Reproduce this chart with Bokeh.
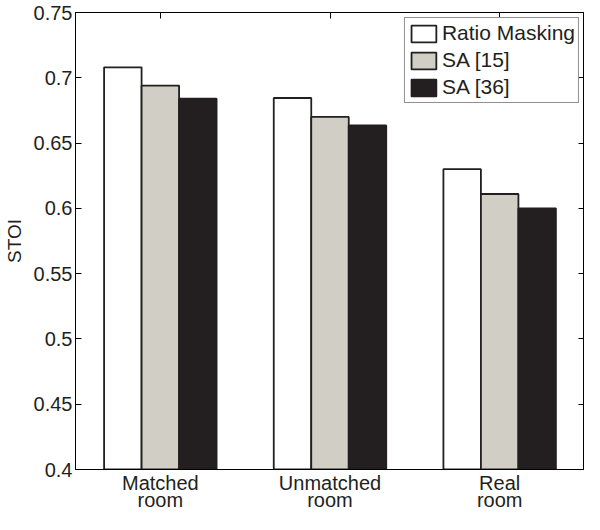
from bokeh.plotting import figure
from bokeh.models import (FactorRange, ColumnDataSource, FixedTicker, LinearAxis,
                          CategoricalAxis, Legend, LegendItem, Range1d, CustomJSTickFormatter)
from bokeh.transform import dodge
from bokeh.embed import file_html
from bokeh.resources import INLINE

categories = ["Matched\nroom", "Unmatched\nroom", "Real\nroom"]
series_names = ["Ratio Masking", "SA [15]", "SA [36]"]
ratio_masking = [0.708, 0.6845, 0.630]
sa_15 = [0.694, 0.670, 0.611]
sa_36 = [0.684, 0.6635, 0.600]
y_ticks = [0.4, 0.45, 0.5, 0.55, 0.6, 0.65, 0.7, 0.75]
y_tick_labels = ["0.4", "0.45", "0.5", "0.55", "0.6", "0.65", "0.7", "0.75"]

FONT = "Liberation Sans"
EDGE = "#231f20"
fills = ["#ffffff", "#d1cfc5", "#231f20"]
offsets = [-0.221, 0.0, 0.221]
bar_w = 0.221

source = ColumnDataSource(data=dict(cat=categories, rm=ratio_masking, s15=sa_15, s36=sa_36))

p = figure(x_range=FactorRange(factors=categories, range_padding=0),
           y_range=Range1d(0.4, 0.75),
           width=584, height=514, output_backend="svg", toolbar_location=None,
           min_border_left=0, min_border_right=0, min_border_top=12, min_border_bottom=0)

renderers = []
for col, fc, off in zip(["rm", "s15", "s36"], fills, offsets):
    r = p.vbar(x=dodge("cat", off, range=p.x_range), top=col, bottom=0.4, width=bar_w,
               source=source, fill_color=fc, line_color=EDGE, line_width=1.8)
    renderers.append(r)

p.xgrid.visible = False
p.ygrid.visible = False
p.outline_line_color = "black"
p.outline_line_width = 1
p.background_fill_color = "white"
p.border_fill_color = "white"

# left axis
ya = p.yaxis[0]
ya.ticker = FixedTicker(ticks=y_ticks)
ya.major_label_overrides = {t: l for t, l in zip(y_ticks, y_tick_labels)}
ya.major_tick_in = 6
ya.major_tick_out = 0
ya.minor_tick_line_color = None
ya.major_label_text_font = FONT
ya.major_label_text_font_size = "20px"
ya.major_label_text_color = "#231f20"
ya.major_label_standoff = 3
ya.axis_label = "STOI"
ya.axis_label_text_font = FONT
ya.axis_label_text_font_size = "19px"
ya.axis_label_text_font_style = "normal"
ya.axis_label_text_color = "#231f20"
ya.axis_label_standoff = 6
ya.axis_line_color = "black"
ya.major_tick_line_color = "black"

# bottom axis
xa = p.xaxis[0]
xa.major_tick_in = 0
xa.major_tick_out = 0
xa.major_label_text_font = FONT
xa.major_label_text_font_size = "20px"
xa.major_label_text_color = "#231f20"
xa.major_label_text_line_height = 0.8
xa.major_label_standoff = 2
xa.axis_line_color = "black"

# right axis (ticks only)
ra = LinearAxis(ticker=FixedTicker(ticks=y_ticks), formatter=CustomJSTickFormatter(code="return '';"),
                major_tick_in=6, major_tick_out=0,
                minor_tick_line_color=None, major_label_standoff=0, axis_line_color="black")
p.add_layout(ra, "right")

# top axis (ticks only)
ta = CategoricalAxis(formatter=CustomJSTickFormatter(code="return '';"),
                     major_tick_in=6, major_tick_out=0, major_label_standoff=0,
                     axis_line_color="black")
p.add_layout(ta, "above")

legend = Legend(items=[LegendItem(label=n, renderers=[r]) for n, r in zip(series_names, renderers)],
                location="top_right", margin=5, padding=3, spacing=3,
                glyph_width=31, glyph_height=21, label_standoff=3,
                label_text_font=FONT, label_text_font_size="21px",
                label_text_color="#231f20", label_height=21,
                border_line_color=EDGE, border_line_width=1.5,
                background_fill_alpha=1)
p.add_layout(legend)

open("out.html", "w").write(file_html(p, INLINE))
